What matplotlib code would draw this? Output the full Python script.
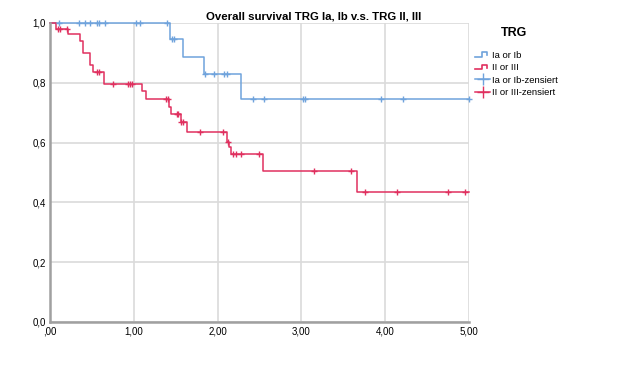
import numpy as np
import matplotlib
matplotlib.use("Agg")
import matplotlib.pyplot as plt
from matplotlib.lines import Line2D
from matplotlib.legend_handler import HandlerBase

# Kaplan-Meier steps
blue_t = [0.0, 1.43, 1.59, 1.84, 2.28, 5.0]
blue_s = [1.0, 0.946, 0.886, 0.829, 0.746, 0.746]
blue_cens = [0.11, 0.35, 0.42, 0.48, 0.56, 0.59, 0.66, 1.03, 1.07, 1.40,
             1.46, 1.48, 1.85, 1.96, 2.08, 2.11,
             2.42, 2.55, 3.02, 3.05, 3.95, 4.21, 5.0]

red_t = [0.0, 0.07, 0.21, 0.36, 0.39, 0.48, 0.51, 0.64, 1.10, 1.15, 1.42, 1.45,
         1.56, 1.63, 2.11, 2.14, 2.16, 2.54, 3.66, 5.0]
red_s = [1.0, 0.981, 0.962, 0.940, 0.900, 0.860, 0.837, 0.796, 0.773, 0.745, 0.720,
         0.695, 0.668, 0.634, 0.601, 0.584, 0.563, 0.506, 0.436, 0.436]
red_cens = [0.09, 0.12, 0.20, 0.56, 0.58, 0.75, 0.93, 0.96, 0.98, 1.39, 1.41,
            1.52, 1.53, 1.57, 1.59, 1.79, 2.06, 2.12, 2.19, 2.22, 2.28, 2.49,
            3.15, 3.59, 3.76, 4.14, 4.75, 4.96]

labels = ["Ia or Ib", "II or III", "Ia or Ib-zensiert", "II or III-zensiert"]
blue = "#6fa3dc"
red = "#e0305f"


def level(times, surv, c):
    idx = np.searchsorted(times, c, side="right") - 1
    return np.array(surv)[idx]


class StepHandler(HandlerBase):
    def create_artists(self, legend, orig, xd, yd, w, h, fontsize, trans):
        xs = [xd, xd + w * 0.45, xd + w * 0.45, xd + w * 0.8, xd + w * 0.8]
        ys = [yd + h * 0.2, yd + h * 0.2, yd + h * 0.85, yd + h * 0.85, yd + h * 0.4]
        ln = Line2D(xs, ys, color=orig.get_color(), lw=1.2, transform=trans)
        return [ln]


plt.rcParams['font.family'] = ['Liberation Sans', 'DejaVu Sans']
fig = plt.figure(figsize=(6.27, 3.69), dpi=100)
ax = fig.add_axes([0.0797, 0.1274, 0.668, 0.8103])

ax.step(blue_t, blue_s, where="post", color=blue, lw=1.1, clip_on=False)
ax.step(red_t, red_s, where="post", color=red, lw=1.1, clip_on=False)
ax.plot(blue_cens, level(blue_t, blue_s, blue_cens), '+', color=blue, ms=5,
        mew=1.0, clip_on=False)
ax.plot(red_cens, level(red_t, red_s, red_cens), '+', color=red, ms=5,
        mew=1.0, clip_on=False)

ax.set_xlim(0, 5)
ax.set_ylim(0, 1)
ax.set_xticks(np.arange(0, 5.01, 1))
ax.set_xticklabels([",00", "1,00", "2,00", "3,00", "4,00", "5,00"], fontsize=7)
ax.set_yticks(np.arange(0, 1.01, 0.2))
ax.set_yticklabels(["0,0", "0,2", "0,4", "0,6", "0,8", "1,0"], fontsize=7)
ax.tick_params(length=0, pad=3)
ax.grid(True, color="#dadada", lw=1.2)
ax.set_axisbelow(True)
for s in ["top", "right"]:
    ax.spines[s].set_visible(False)
for s in ["left", "bottom"]:
    ax.spines[s].set_color("#a0a0a0")
    ax.spines[s].set_linewidth(1.8)

fig.text(0.5, 0.955, "Overall survival TRG Ia, Ib v.s. TRG II, III",
         ha="center", va="center", fontsize=8.2, fontweight="bold")

fig.text(514 / 627, 1 - 33 / 369, "TRG", ha="center", va="center",
         fontsize=9, fontweight="bold")
h1 = Line2D([], [], color=blue)
h2 = Line2D([], [], color=red)
h3 = Line2D([], [], color=blue, marker='+', ms=9, lw=1.1)
h4 = Line2D([], [], color=red, marker='+', ms=9, lw=1.1)
leg = fig.legend([h1, h2, h3, h4], labels, loc="upper left",
                 bbox_to_anchor=(475 / 627, 1 - 51 / 369), frameon=False,
                 fontsize=6.8, borderpad=0, borderaxespad=0,
                 handlelength=1.6, handletextpad=0.2, labelspacing=0.35,
                 handler_map={h1: StepHandler(), h2: StepHandler()})

fig.savefig("out.png", dpi=100)
